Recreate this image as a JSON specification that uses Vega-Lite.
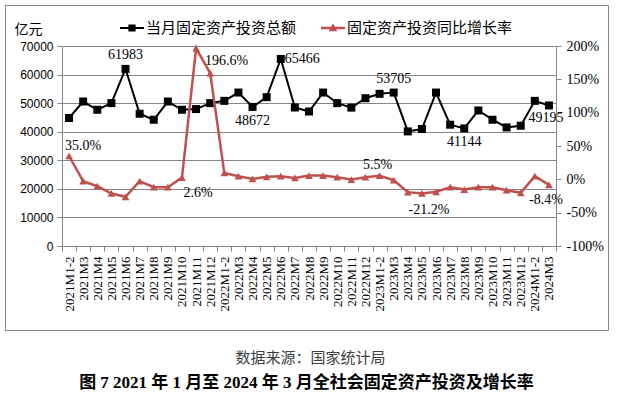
{
  "$schema": "https://vega.github.io/schema/vega-lite/v6.json",
  "width": 603,
  "height": 325,
  "autosize": {"type": "none"},
  "padding": {"left": 5, "top": 5, "right": 12, "bottom": 68},
  "background": "#ffffff",
  "config": {
    "view": {"stroke": "#868686", "strokeWidth": 1},
    "locale": {"number": {"decimal": ".", "thousands": ",", "grouping": [3], "currency": ["$", ""], "minus": "-"}},
    "axis": {"domainColor": "#868686", "tickColor": "#868686", "gridColor": "#868686", "labelColor": "#000000", "domainWidth": 1, "tickWidth": 1, "gridWidth": 1}
  },
  "title": {
    "text": "图 7 2021 年 1 月至 2024 年 3 月全社会固定资产投资及增长率",
    "orient": "bottom",
    "anchor": "middle",
    "frame": "group",
    "font": "Liberation Serif, Noto Sans CJK SC",
    "fontSize": 17,
    "fontWeight": "bold",
    "color": "#000000",
    "offset": 10
  },
  "data": {"values": [
    {"m": "2021M1-2", "amount": 44800, "rate": 0.350},
    {"m": "2021M3", "amount": 50570, "rate": -0.028},
    {"m": "2021M4", "amount": 47680, "rate": -0.103},
    {"m": "2021M5", "amount": 50010, "rate": -0.212},
    {"m": "2021M6", "amount": 61983, "rate": -0.262},
    {"m": "2021M7", "amount": 46280, "rate": -0.028},
    {"m": "2021M8", "amount": 44190, "rate": -0.118},
    {"m": "2021M9", "amount": 50570, "rate": -0.118},
    {"m": "2021M10", "amount": 47680, "rate": 0.026},
    {"m": "2021M11", "amount": 47920, "rate": 1.966},
    {"m": "2021M12", "amount": 50010, "rate": 1.592},
    {"m": "2022M1-2", "amount": 50800, "rate": 0.097},
    {"m": "2022M3", "amount": 53710, "rate": 0.047},
    {"m": "2022M4", "amount": 48672, "rate": 0.007},
    {"m": "2022M5", "amount": 52100, "rate": 0.037},
    {"m": "2022M6", "amount": 65466, "rate": 0.047},
    {"m": "2022M7", "amount": 48480, "rate": 0.022},
    {"m": "2022M8", "amount": 47080, "rate": 0.057},
    {"m": "2022M9", "amount": 53710, "rate": 0.057},
    {"m": "2022M10", "amount": 50010, "rate": 0.032},
    {"m": "2022M11", "amount": 48430, "rate": -0.003},
    {"m": "2022M12", "amount": 51730, "rate": 0.032},
    {"m": "2023M1-2", "amount": 53260, "rate": 0.055},
    {"m": "2023M3", "amount": 53705, "rate": -0.013},
    {"m": "2023M4", "amount": 40110, "rate": -0.192},
    {"m": "2023M5", "amount": 40950, "rate": -0.212},
    {"m": "2023M6", "amount": 53710, "rate": -0.187},
    {"m": "2023M7", "amount": 42450, "rate": -0.118},
    {"m": "2023M8", "amount": 41144, "rate": -0.153},
    {"m": "2023M9", "amount": 47440, "rate": -0.118},
    {"m": "2023M10", "amount": 44190, "rate": -0.118},
    {"m": "2023M11", "amount": 41500, "rate": -0.163},
    {"m": "2023M12", "amount": 42100, "rate": -0.202},
    {"m": "2024M1-2", "amount": 50800, "rate": 0.047},
    {"m": "2024M3", "amount": 49195, "rate": -0.084}
  ]},
  "encoding": {
    "x": {
      "field": "m", "type": "ordinal", "sort": null,
      "scale": {"type": "band", "paddingInner": 0, "paddingOuter": 0, "range": [57, 551]},
      "axis": {
        "offset": -84,
        "labelAngle": -90, "labelFont": "Liberation Serif", "labelFontSize": 13,
        "tickBand": "extent", "tickSize": 5, "labelPadding": 5, "grid": false,
        "title": "数据来源：国家统计局", "titleFont": "Noto Sans CJK SC", "titleFontSize": 15,
        "titleFontWeight": "normal", "titleColor": "#404040", "titleAngle": 0,
        "titleAlign": "center", "titleBaseline": "middle", "titleX": 305, "titleY": 111
      }
    }
  },
  "layer": [
    {
      "encoding": {
        "y": {
          "field": "amount", "type": "quantitative",
          "scale": {"domain": [0, 70000], "nice": false, "zero": false, "range": [241, 41]},
          "axis": {
            "orient": "left", "offset": -57, "values": [0, 10000, 20000, 30000, 40000, 50000, 60000, 70000],
            "format": "d", "labelFont": "Liberation Sans", "labelFontSize": 12, "tickSize": 5, "labelPadding": 4,
            "grid": true,
            "title": "亿元", "titleFont": "Noto Sans CJK SC", "titleFontSize": 14, "titleFontWeight": "normal",
            "titleAngle": 0, "titleAlign": "center", "titleBaseline": "middle", "titleX": -34, "titleY": 24, "titleColor": "#000000"
          }
        }
      },
      "layer": [
        {"mark": {"type": "line", "color": "#000000", "strokeWidth": 2}},
        {"mark": {"type": "point", "shape": "square", "filled": true, "color": "#000000", "size": 64, "opacity": 1}},
        {
          "transform": [{"filter": "indexof(['2021M6','2023M3'], datum.m) >= 0"}],
          "mark": {"type": "text", "font": "Liberation Serif", "fontSize": 14, "dy": -14, "baseline": "middle", "align": "center", "color": "#000000"},
          "encoding": {"text": {"field": "amount", "type": "quantitative", "format": "d"}}
        },
        {
          "transform": [{"filter": "datum.m == '2022M6'"}],
          "mark": {"type": "text", "font": "Liberation Serif", "fontSize": 14, "dx": 4, "baseline": "middle", "align": "left", "color": "#000000"},
          "encoding": {"text": {"field": "amount", "type": "quantitative", "format": "d"}}
        },
        {
          "transform": [{"filter": "indexof(['2022M4','2023M8'], datum.m) >= 0"}],
          "mark": {"type": "text", "font": "Liberation Serif", "fontSize": 14, "dy": 14, "baseline": "middle", "align": "center", "color": "#000000"},
          "encoding": {"text": {"field": "amount", "type": "quantitative", "format": "d"}}
        },
        {
          "transform": [{"filter": "datum.m == '2024M3'"}],
          "mark": {"type": "text", "font": "Liberation Serif", "fontSize": 14, "dy": 13, "dx": -3, "baseline": "middle", "align": "center", "color": "#000000"},
          "encoding": {"text": {"field": "amount", "type": "quantitative", "format": "d"}}
        },
        {
          "transform": [{"filter": "false"}],
          "mark": {"type": "point", "filled": true, "size": 576, "opacity": 1},
          "encoding": {
            "color": {
              "field": "s", "type": "nominal",
              "scale": {"domain": ["当月固定资产投资总额", "固定资产投资同比增长率"], "range": ["#000000", "#C0504D"]},
              "legend": {
                "orient": "none", "legendX": 115, "legendY": 11, "direction": "horizontal", "title": null,
                "padding": 0, "symbolSize": 576, "symbolStrokeWidth": 0, "symbolOpacity": 1,
                "labelFont": "Noto Sans CJK SC", "labelFontSize": 15, "labelColor": "#000000", "labelOffset": 2,
                "columnPadding": 24, "labelLimit": 300
              }
            },
            "shape": {
              "field": "s", "type": "nominal",
              "scale": {"domain": ["当月固定资产投资总额", "固定资产投资同比增长率"], "range": [
                "M-1,-0.09H1V0.09H-1Z M-0.3,-0.3H0.3V0.3H-0.3Z",
                "M-1,-0.1H1V0.1H-1Z M0,-0.4L0.36,0.28H-0.36Z"
              ]},
              "legend": {
                "orient": "none", "legendX": 115, "legendY": 11, "direction": "horizontal", "title": null,
                "padding": 0, "symbolSize": 576, "symbolStrokeWidth": 0, "symbolOpacity": 1,
                "labelFont": "Noto Sans CJK SC", "labelFontSize": 15, "labelColor": "#000000", "labelOffset": 2,
                "columnPadding": 24, "labelLimit": 300
              }
            }
          }
        }
      ]
    },
    {
      "encoding": {
        "y": {
          "field": "rate", "type": "quantitative",
          "scale": {"domain": [-1, 2], "nice": false, "zero": false, "range": [241, 41]},
          "axis": {
            "orient": "right", "offset": -52, "values": [-1, -0.5, 0, 0.5, 1, 1.5, 2], "format": ".0%",
            "labelFont": "Liberation Serif", "labelFontSize": 14, "tickSize": 5, "labelPadding": 5,
            "grid": false, "title": null
          }
        }
      },
      "layer": [
        {"mark": {"type": "line", "color": "#C0504D", "strokeWidth": 2.5}},
        {"mark": {"type": "point", "shape": "triangle-up", "filled": true, "color": "#C0504D", "size": 60, "opacity": 1}},
        {
          "transform": [{"filter": "datum.m == '2021M1-2'"}],
          "mark": {"type": "text", "font": "Liberation Serif", "fontSize": 14, "dx": -4, "dy": -10, "baseline": "middle", "align": "left", "color": "#000000"},
          "encoding": {"text": {"field": "rate", "type": "quantitative", "format": ".1%"}}
        },
        {
          "transform": [{"filter": "datum.m == '2021M11'"}],
          "mark": {"type": "text", "font": "Liberation Serif", "fontSize": 14, "dx": 9, "dy": 13, "baseline": "middle", "align": "left", "color": "#000000"},
          "encoding": {"text": {"field": "rate", "type": "quantitative", "format": ".1%"}}
        },
        {
          "transform": [{"filter": "datum.m == '2021M10'"}],
          "mark": {"type": "text", "font": "Liberation Serif", "fontSize": 14, "dx": 16, "dy": 15, "baseline": "middle", "align": "center", "color": "#000000"},
          "encoding": {"text": {"field": "rate", "type": "quantitative", "format": ".1%"}}
        },
        {
          "transform": [{"filter": "datum.m == '2023M1-2'"}],
          "mark": {"type": "text", "font": "Liberation Serif", "fontSize": 14, "dx": -2, "dy": -11, "baseline": "middle", "align": "center", "color": "#000000"},
          "encoding": {"text": {"field": "rate", "type": "quantitative", "format": ".1%"}}
        },
        {
          "transform": [{"filter": "datum.m == '2023M5'"}],
          "mark": {"type": "text", "font": "Liberation Serif", "fontSize": 14, "dx": 7, "dy": 17, "baseline": "middle", "align": "center", "color": "#000000"},
          "encoding": {"text": {"field": "rate", "type": "quantitative", "format": ".1%"}}
        },
        {
          "transform": [{"filter": "datum.m == '2024M3'"}],
          "mark": {"type": "text", "font": "Liberation Serif", "fontSize": 14, "dx": -3, "dy": 15, "baseline": "middle", "align": "center", "color": "#000000"},
          "encoding": {"text": {"field": "rate", "type": "quantitative", "format": ".1%"}}
        }
      ]
    }
  ],
  "resolve": {"scale": {"y": "independent"}}
}
